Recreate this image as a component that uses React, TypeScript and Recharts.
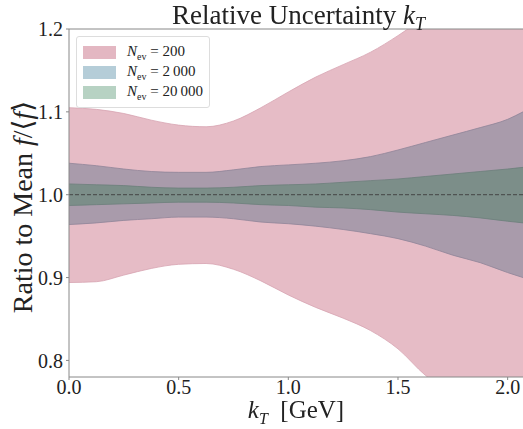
import React from 'react';
import { ComposedChart, Area, XAxis, YAxis, ReferenceLine } from 'recharts';

const kT = [0, 0.125, 0.25, 0.375, 0.5, 0.625, 0.75, 0.875, 1.0, 1.125, 1.25, 1.375, 1.5, 1.625, 1.75, 1.875, 2.0, 2.07];

const lo200 = [0.894, 0.895, 0.903, 0.911, 0.916, 0.917, 0.91, 0.896, 0.879, 0.864, 0.851, 0.836, 0.814, 0.782, 0.76, 0.745, 0.73, 0.72];
const hi200 = [1.105, 1.103, 1.098, 1.09, 1.084, 1.082, 1.089, 1.105, 1.124, 1.142, 1.157, 1.172, 1.192, 1.215, 1.24, 1.26, 1.28, 1.29];

const lo2000 = [0.964, 0.966, 0.969, 0.971, 0.973, 0.973, 0.971, 0.967, 0.965, 0.962, 0.958, 0.953, 0.947, 0.938, 0.927, 0.918, 0.906, 0.9];
const hi2000 = [1.038, 1.035, 1.031, 1.028, 1.027, 1.027, 1.03, 1.034, 1.036, 1.038, 1.041, 1.046, 1.054, 1.063, 1.072, 1.081, 1.091, 1.1];

const lo20000 = [0.987, 0.988, 0.989, 0.99, 0.991, 0.991, 0.99, 0.988, 0.987, 0.985, 0.984, 0.982, 0.979, 0.977, 0.975, 0.972, 0.968, 0.966];
const hi20000 = [1.013, 1.012, 1.011, 1.009, 1.008, 1.008, 1.009, 1.011, 1.012, 1.013, 1.015, 1.017, 1.019, 1.022, 1.025, 1.028, 1.031, 1.033];

const xTicks = [0, 0.5, 1.0, 1.5, 2.0];
const yTicks = [0.8, 0.9, 1.0, 1.1, 1.2];

const legendItems = [
  { label: '200', color: '#e3b7c2' },
  { label: '2\u2009000', color: '#b5cdd8' },
  { label: '20\u2009000', color: '#b7d2c3' },
];

const data = kT.map((k, i) => ({
  k,
  n200: [lo200[i], hi200[i]],
  n2000: [lo2000[i], hi2000[i]],
  n20000: [lo20000[i], hi20000[i]],
}));

const serif = '"Liberation Serif", "DejaVu Serif", serif';

export default function App() {
  return (
    <div style={{ position: 'fixed', left: 0, top: 0, width: 523, height: 429, background: '#fff', fontFamily: serif }}>
      <ComposedChart width={523} height={429} data={data} margin={{ top: 29, right: 0, bottom: 22, left: 19 }}>
        <XAxis
          dataKey="k"
          type="number"
          domain={[0, 2.07]}
          ticks={xTicks}
          tickFormatter={(v: number) => v.toFixed(1)}
          height={30}
          stroke="#888"
          tickSize={3}
          tick={{ fill: '#222', fontSize: 20, fontFamily: serif, dy: -2 }}
        />
        <YAxis
          type="number"
          domain={[0.78, 1.2]}
          allowDataOverflow
          ticks={yTicks}
          tickFormatter={(v: number) => v.toFixed(1)}
          width={50}
          stroke="#888"
          tickSize={3}
          tick={{ fill: '#222', fontSize: 20, fontFamily: serif, dx: -1 }}
        />
        <Area dataKey="n200" type="monotone" fill="#e6bcc6" fillOpacity={1} stroke="#d7a3b1" strokeWidth={0.8} isAnimationActive={false} />
        <Area dataKey="n2000" type="monotone" fill="#a99bab" fillOpacity={1} stroke="#8f8498" strokeWidth={0.8} isAnimationActive={false} />
        <Area dataKey="n20000" type="monotone" fill="#7c8e89" fillOpacity={1} stroke="#6c7f7b" strokeWidth={0.8} isAnimationActive={false} />
        <ReferenceLine y={1} stroke="#444" strokeDasharray="4 2" strokeWidth={1} />
        <ReferenceLine y={1.2} stroke="#888" strokeWidth={1} />
      </ComposedChart>

      <div style={{ position: 'absolute', left: 0, width: 597, top: 0, textAlign: 'center', fontSize: 27, color: '#222' }}>
        Relative Uncertainty <i>k</i><sub style={{ fontSize: 18, fontStyle: 'italic' }}>T</sub>
      </div>

      <div
        style={{
          position: 'absolute', left: 22, top: 207, transform: 'translate(-50%, -50%) rotate(-90deg)',
          whiteSpace: 'nowrap', fontSize: 28, color: '#222',
        }}
      >
        Ratio to Mean <i>f</i>/⟨<i>f</i>⟩
      </div>

      <div style={{ position: 'absolute', left: 0, width: 592, top: 398, textAlign: 'center', fontSize: 25, lineHeight: '24px', color: '#222' }}>
        <i>k</i><sub style={{ fontSize: 16, fontStyle: 'italic', lineHeight: '10px' }}>T</sub>&nbsp;&nbsp;[GeV]
      </div>

      <div
        style={{
          position: 'absolute', left: 76, top: 36, width: 134, padding: '5px 6px', boxSizing: 'border-box',
          background: 'rgba(255,255,255,0.85)', border: '1px solid #ddd', borderRadius: 3,
        }}
      >
        {legendItems.map((it) => (
          <div key={it.label} style={{ display: 'flex', alignItems: 'center', height: 20 }}>
            <span style={{ width: 31, height: 11, background: it.color, marginRight: 11, border: `1px solid ${it.color}` }} />
            <span style={{ fontSize: 15, color: '#222', whiteSpace: 'nowrap' }}>
              <i>N</i><sub style={{ fontSize: 10 }}>ev</sub> = {it.label}
            </span>
          </div>
        ))}
      </div>
    </div>
  );
}
